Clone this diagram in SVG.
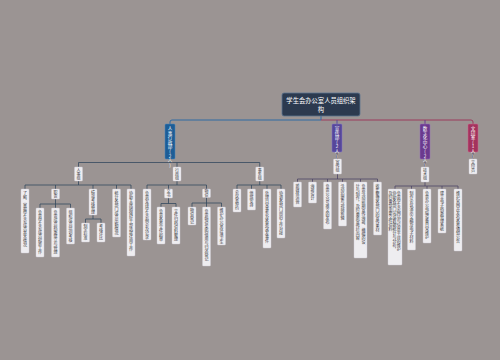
<svg xmlns="http://www.w3.org/2000/svg" width="500" height="360" viewBox="0 0 500 360">
<style>
.bg{fill:#9b9493}
.leaf{fill:#eeedf0;stroke:#cfcdd6;stroke-width:.4}
.t{font-family:"Noto Sans CJK SC",sans-serif;font-size:4px;fill:#3b3b40;writing-mode:vertical-rl;text-orientation:upright}
.m{font-family:"Noto Sans CJK SC",sans-serif;font-size:4.6px;fill:#ffffff;writing-mode:vertical-rl;text-orientation:upright}
.r{font-family:"Noto Sans CJK SC",sans-serif;font-size:6.3px;fill:#ffffff;text-anchor:middle}
.c1{fill:none;stroke:#34495e;stroke-width:.8}
.c2{fill:none;stroke:#4b4466;stroke-width:.8}
</style>
<rect class="bg" x="0" y="0" width="500" height="360"/>
<g id="connectors">
<path d="M321,116 V120 H172 Q170,120 170,122 V124" fill="none" stroke="#2e6aa3" stroke-width="1"/>
<path d="M321,120 H471 Q473,120 473,122 V124" fill="none" stroke="#9c3a5c" stroke-width="1"/>
<path d="M337,120 V124" fill="none" stroke="#5a4a9c" stroke-width="1"/>
<path d="M425,120 V124" fill="none" stroke="#6b3a8e" stroke-width="1"/>
<path class="c1" d="M170,159 V162.5 M78.5,167 V162.5 H259.75 V167 M177,162.5 V167"/>
<path class="c1" d="M78.5,181 V185 M25,189 V185 H131 V189 M55.5,185 V189 M93,185 V189 M116.5,185 V189"/>
<path class="c1" d="M55.5,198 V204 M40,208 V204 H70.5 V208 M55.5,204 V208"/>
<path class="c1" d="M93,215 V219 M85.5,223 V219 H101 V223"/>
<path class="c1" d="M177,181 V185 M147,189 V185 H206.5 V189 M168.5,185 V189"/>
<path class="c1" d="M168.5,198 V203.5 M161,207 V203.5 H176 V207"/>
<path class="c1" d="M206.5,197 V203 M192,207 V203 H221.5 V207 M206.5,203 V207"/>
<path class="c1" d="M259.75,181 V185 M237,189 V185 H281 V189 M251.5,185 V189 M267,185 V189"/>
<path class="c2" d="M337,152 V159 M337.5,174 V179 M297.5,182 V179 H377.5 V182 M312.5,179 V182 M327.5,179 V182 M342.5,179 V182 M360.5,179 V182"/>
<path class="c2" d="M425,159 V167 M425,182 V186 M395,189 V186 H458 V189 M411.5,186 V189 M427,186 V189 M442,186 V189"/>
<path class="c2" d="M473,152 V159"/>
</g>
<g id="root">
<rect x="282" y="93" width="78" height="23" rx="2" fill="#2c3a4f" stroke="#5b7391" stroke-width=".8"/>
<text class="r" x="321" y="103">学生会办公室人员组织架</text>
<text class="r" x="321" y="112">构</text>
</g>
<g id="b-renshi">
<rect x="165" y="124" width="10" height="35" rx="1" fill="#1d5d96" stroke="#4a86bf" stroke-width=".5"/>
<text class="m" x="170" y="126">人事行政部(2人)</text>
</g>
<g id="b-xuanchuan">
<rect x="332" y="124" width="10" height="28" rx="1" fill="#56479a" stroke="#8576c4" stroke-width=".5"/>
<text class="m" x="337" y="126">宣传部(2人)</text>
</g>
<g id="b-shuzi">
<rect x="420" y="124" width="10" height="35" rx="1" fill="#6b3a8e" stroke="#9b6cbe" stroke-width=".5"/>
<text class="m" x="425" y="126">数字化中心(2人)</text>
</g>
<g id="b-wenyin">
<rect x="468" y="124" width="10" height="28" rx="1" fill="#a3335e" stroke="#d0668f" stroke-width=".5"/>
<text class="m" x="473" y="126">文印室(1人)</text>
</g>
<g id="n-renshizu"><rect class="leaf" x="74.5" y="167" width="8" height="14" rx=".8"/><text class="t" x="78.5" y="168.5">人事组</text></g>
<g id="n-xingzhengzu"><rect class="leaf" x="173" y="167" width="8" height="14" rx=".8"/><text class="t" x="177" y="168.5">行政组</text></g>
<g id="n-shiwuzu"><rect class="leaf" x="255.75" y="167" width="8" height="14" rx=".8"/><text class="t" x="259.75" y="168.5">事务组</text></g>
<g id="n-a1"><rect class="leaf" x="21" y="189" width="8" height="64" rx=".8"/><text class="t" x="25" y="191">了解、掌握学生会成员基本情况</text></g>
<g id="n-a2"><rect class="leaf" x="51.5" y="189" width="8" height="10" rx=".8"/><text class="t" x="55.5" y="190">职责</text></g>
<g id="n-a2a"><rect class="leaf" x="36" y="208" width="8" height="49" rx=".8"/><text class="t" x="40" y="210">负责学生会成员招新工作</text></g>
<g id="n-a2b"><rect class="leaf" x="51.5" y="208" width="8" height="49" rx=".8"/><text class="t" x="55.5" y="210">负责成员档案建立与管理</text></g>
<g id="n-a2c"><rect class="leaf" x="66.5" y="208" width="8" height="36" rx=".8"/><text class="t" x="70.5" y="210">组织成员培训考核</text></g>
<g id="n-a3"><rect class="leaf" x="89" y="189" width="8" height="26" rx=".8"/><text class="t" x="93" y="190.5">绩效考核管理</text></g>
<g id="n-a3a"><rect class="leaf" x="81.5" y="223" width="8" height="19" rx=".8"/><text class="t" x="85.5" y="224.5">制定标准</text></g>
<g id="n-a3b"><rect class="leaf" x="97" y="223" width="8" height="19" rx=".8"/><text class="t" x="101" y="224.5">考核评比</text></g>
<g id="n-a4"><rect class="leaf" x="112.5" y="189" width="8" height="48" rx=".8"/><text class="t" x="116.5" y="191">统计各部门成员出勤情况</text></g>
<g id="n-a5"><rect class="leaf" x="127" y="189" width="8" height="67" rx=".8"/><text class="t" x="131" y="191">协助主席团做好干部选拔任用工作</text></g>
<g id="n-b1"><rect class="leaf" x="143" y="189" width="8" height="51" rx=".8"/><text class="t" x="147" y="191">负责安排学生会例会及记录</text></g>
<g id="n-b2"><rect class="leaf" x="164.5" y="189" width="8" height="9" rx=".8"/><text class="t" x="168.5" y="189.6">文书</text></g>
<g id="n-b2a"><rect class="leaf" x="157" y="207" width="8" height="37" rx=".8"/><text class="t" x="161" y="209">负责各类文件起草</text></g>
<g id="n-b2b"><rect class="leaf" x="172" y="207" width="8" height="37" rx=".8"/><text class="t" x="176" y="209">文件归档资料整理</text></g>
<g id="n-b3"><rect class="leaf" x="202.5" y="189" width="8" height="8.5" rx=".8"/><text class="t" x="206.5" y="189.4">物资</text></g>
<g id="n-b3a"><rect class="leaf" x="188" y="207" width="8" height="18" rx=".8"/><text class="t" x="192" y="208">物资登记</text></g>
<g id="n-b3b"><rect class="leaf" x="202.5" y="207" width="8" height="59" rx=".8"/><text class="t" x="206.5" y="209">负责物资采购借用与归还登记</text></g>
<g id="n-b3c"><rect class="leaf" x="217.5" y="207" width="8" height="38" rx=".8"/><text class="t" x="221.5" y="208.5">维护办公室环境卫生</text></g>
<g id="n-c1"><rect class="leaf" x="233" y="189" width="8" height="23" rx=".8"/><text class="t" x="237" y="190.5">会议室预约</text></g>
<g id="n-c2"><rect class="leaf" x="247.5" y="189" width="8" height="21" rx=".8"/><text class="t" x="251.5" y="191.5">值班安排</text></g>
<g id="n-c3"><rect class="leaf" x="263" y="189" width="8" height="59" rx=".8"/><text class="t" x="267" y="191">处理日常事务及各类突发事件</text></g>
<g id="n-c4"><rect class="leaf" x="277" y="189" width="8" height="49" rx=".8"/><text class="t" x="281" y="191">协调各部门间的工作对接</text></g>
<g id="n-xuanchuanzu"><rect class="leaf" x="333.5" y="159" width="8" height="15" rx=".8"/><text class="t" x="337.5" y="160.5">宣传组</text></g>
<g id="n-d1"><rect class="leaf" x="293.5" y="182" width="8" height="25" rx=".8"/><text class="t" x="297.5" y="184">新媒体运营</text></g>
<g id="n-d2"><rect class="leaf" x="308.5" y="182" width="8" height="21" rx=".8"/><text class="t" x="312.5" y="184.5">海报设计</text></g>
<g id="n-d3"><rect class="leaf" x="323.5" y="182" width="8" height="47" rx=".8"/><text class="t" x="327.5" y="184">负责公众号推文的发布</text></g>
<g id="n-d4"><rect class="leaf" x="338.5" y="182" width="8" height="44" rx=".8"/><text class="t" x="342.5" y="184">活动拍摄与视频剪辑</text></g>
<g id="n-d5"><rect class="leaf" x="354" y="182" width="13" height="76" rx=".8"/><text class="t" x="363.5" y="184">负责活动前期宣传海报、横幅的设</text><text class="t" x="357.8" y="184">计与制作，及时更新宣传栏内容</text></g>
<g id="n-d6"><rect class="leaf" x="373.5" y="182" width="8" height="53" rx=".8"/><text class="t" x="377.5" y="184">收集整理各部门的宣传素材</text></g>
<g id="n-jishuzu"><rect class="leaf" x="421" y="167" width="8" height="15" rx=".8"/><text class="t" x="425" y="168.5">技术组</text></g>
<g id="n-e1"><rect class="leaf" x="388" y="189" width="14" height="76" rx=".8"/><text class="t" x="398.8" y="191">负责学生会网站与信息平台的维护</text><text class="t" x="394.6" y="191">协助各部门完成数据统计与分析，</text><text class="t" x="390.6" y="191">及时备份重要文件资料</text></g>
<g id="n-e2"><rect class="leaf" x="407.5" y="189" width="8" height="61" rx=".8"/><text class="t" x="411.5" y="191">制作会议演示文稿及电子材料</text></g>
<g id="n-e3"><rect class="leaf" x="423" y="189" width="8" height="54" rx=".8"/><text class="t" x="427" y="191">负责办公电脑设备日常维护</text></g>
<g id="n-e4"><rect class="leaf" x="438" y="189" width="8" height="44" rx=".8"/><text class="t" x="442" y="191">建立电子档案管理系统</text></g>
<g id="n-e5"><rect class="leaf" x="454" y="189" width="8" height="62" rx=".8"/><text class="t" x="458" y="191">维护官网并发布各类通知公告</text></g>
<g id="n-wenyinyuan"><rect class="leaf" x="469" y="159" width="8" height="15" rx=".8"/><text class="t" x="473" y="160.5">文印员</text></g>
</svg>
